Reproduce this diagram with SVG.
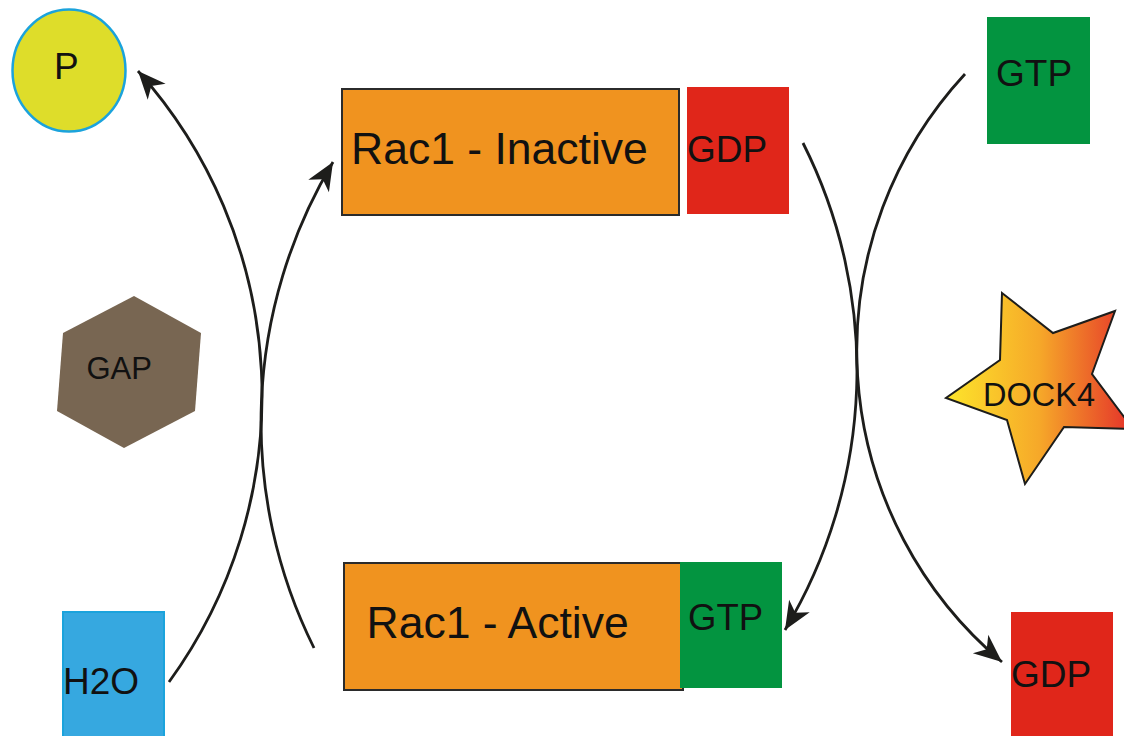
<svg xmlns="http://www.w3.org/2000/svg" width="1124" height="736" viewBox="0 0 1124 736">
  <style>
    .lbl { font-family: "Liberation Sans", Arial, sans-serif; fill: #111111; }
    .big { font-size: 44.5px; }
    .mid { font-size: 37px; }
    .sm  { font-size: 31px; }
    .rac { fill: #f0931f; stroke: #2b2b2b; stroke-width: 2; }
    .gdp { fill: #e0261a; }
    .gtp { fill: #039440; }
    .conn { fill: none; stroke: #1d1d1b; stroke-width: 2.8; marker-end: url(#head); }
  </style>
  <defs>
    <marker id="head" markerUnits="userSpaceOnUse" viewBox="-32 -16 34 32" markerWidth="34" markerHeight="32" refX="0" refY="0" orient="auto" overflow="visible">
      <path d="M0,0 L-28,-12 L-20,0 L-28,12 Z" fill="#1d1d1b"/>
    </marker>
    <linearGradient id="starFill" x1="0" y1="0" x2="1" y2="0">
      <stop offset="0" stop-color="#fde52b"/>
      <stop offset="0.5" stop-color="#f6a829"/>
      <stop offset="1" stop-color="#e4302a"/>
    </linearGradient>
  </defs>

  <rect width="1124" height="736" fill="#ffffff"/>

  <!-- reaction arcs -->
  <g id="connectors">
    <!-- GAP side: Rac1-GTP -> Rac1-GDP, H2O -> P -->
    <path class="conn" d="M314,648 A507,507 0 0 1 333,162"/>
    <path class="conn" d="M169,682 A487,487 0 0 0 138,71"/>
    <!-- GEF side: Rac1-GDP -> Rac1-GTP, GTP -> GDP -->
    <path class="conn" d="M803,143 A505,505 0 0 1 785,630"/>
    <path class="conn" d="M965,74 A407,407 0 0 0 1002,662"/>
  </g>

  <g id="phosphate">
    <ellipse cx="69" cy="70.5" rx="56.5" ry="61" fill="#dedd2a" stroke="#1ba3dc" stroke-width="2.5"/>
    <text class="lbl mid" x="54" y="79">P</text>
  </g>

  <g id="rac1-inactive">
    <rect class="rac" x="342" y="89" width="337" height="126"/>
    <text class="lbl big" x="351" y="164">Rac1 - Inactive</text>
  </g>

  <g id="gdp-bound">
    <rect class="gdp" x="687" y="87" width="102" height="127"/>
    <text class="lbl mid" x="687" y="162">GDP</text>
  </g>

  <g id="gtp-free">
    <rect class="gtp" x="987" y="17" width="103" height="127"/>
    <text class="lbl mid" x="996" y="86">GTP</text>
  </g>

  <g id="gap">
    <polygon points="134,296 201,333 195,411 124,448 57,411 63,333" fill="#786652"/>
    <text class="lbl sm" x="86.5" y="379">GAP</text>
  </g>

  <g id="dock4">
    <polygon points="1002,293 1053,333 1115,311 1092,374 1133,429 1064,427 1025,484 1007,420 946,398 1000,360" fill="url(#starFill)" stroke="#1d1d1b" stroke-width="2"/>
    <text class="lbl" font-size="32.5" x="983" y="406">DOCK4</text>
  </g>

  <g id="h2o">
    <rect x="63" y="612" width="101" height="130" fill="#36a8e0" stroke="#1ba3dc" stroke-width="2"/>
    <text class="lbl mid" x="63" y="694">H2O</text>
  </g>

  <g id="rac1-active">
    <rect class="rac" x="344" y="563" width="339" height="127"/>
    <text class="lbl big" x="366.5" y="638">Rac1 - Active</text>
  </g>

  <g id="gtp-bound">
    <rect class="gtp" x="680" y="562" width="102" height="126"/>
    <text class="lbl" font-size="36.5" x="688" y="630">GTP</text>
  </g>

  <g id="gdp-free">
    <rect class="gdp" x="1011" y="612" width="102" height="130"/>
    <text class="lbl mid" x="1011" y="687">GDP</text>
  </g>
</svg>
